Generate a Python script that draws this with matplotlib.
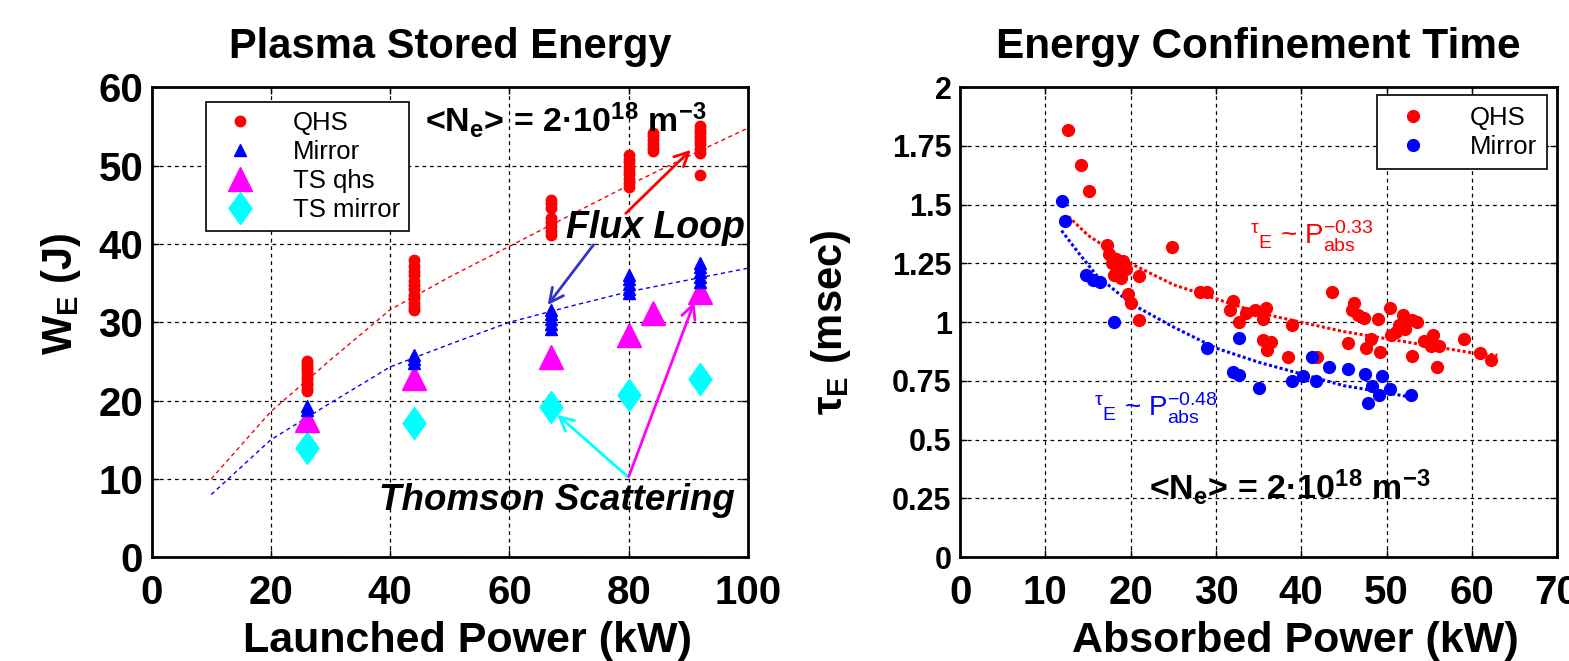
import numpy as np
import matplotlib.pyplot as plt
from matplotlib.lines import Line2D

plt.rcParams['font.family'] = ['Liberation Sans', 'DejaVu Sans']
plt.rcParams['mathtext.fontset'] = 'custom'
plt.rcParams['mathtext.rm'] = 'Liberation Sans'
plt.rcParams['mathtext.bf'] = 'Liberation Sans:bold'
plt.rcParams['mathtext.it'] = 'Liberation Sans:italic'

# ---- left panel: stored energy vs launched power ----
qhs_P = [26]*11 + [44]*12 + [67]*8 + [80]*9 + [84]*6 + [92]*9
qhs_W = [21.2, 21.5, 22.0, 22.3, 22.8, 23.1, 23.6, 24.0, 24.3, 24.7, 25.0,
         31.6, 32.0, 32.5, 33.1, 33.5, 34.2, 34.8, 35.3, 36.0, 36.6, 37.2, 37.9,
         41.2, 41.7, 42.3, 42.8, 43.3, 44.6, 45.1, 45.6,
         47.3, 47.8, 48.3, 48.9, 49.3, 49.8, 50.4, 50.8, 51.4,
         51.8, 52.3, 52.8, 53.3, 53.8, 54.2,
         48.8, 51.6, 52.1, 52.7, 53.1, 53.6, 54.1, 54.6, 55.0]
mir_P = [26, 26, 44, 44, 44, 67, 67, 67, 67, 67, 80, 80, 80, 80, 80, 92, 92, 92, 92, 92]
mir_W = [18.8, 19.3, 24.8, 25.3, 25.8, 29.2, 29.8, 30.4, 31.0, 31.5,
         33.7, 34.3, 34.9, 35.5, 36.0, 35.2, 35.8, 36.4, 37.0, 37.5]
ts_qhs_P = [26, 44, 67, 80, 84, 92]
ts_qhs_W = [17.5, 22.9, 25.6, 28.4, 31.2, 33.9]
ts_mir_P = [26, 44, 67, 80, 92]
ts_mir_W = [13.9, 17.1, 19.2, 20.7, 22.8]
fit_P = [10, 20, 30, 40, 50, 60, 70, 80, 90, 100]
fit_qhs_W = [10.0, 18.6, 25.2, 31.6, 35.8, 39.7, 43.6, 47.5, 51.2, 54.8]
fit_mir_W = [8.0, 15.0, 19.7, 24.3, 27.2, 30.0, 32.0, 33.9, 35.4, 36.9]

# ---- right panel: confinement time vs absorbed power ----
qhs_Pabs = [12.7, 14.2, 15.1, 17.2, 17.5, 18.3, 19.1, 18.7, 19.5, 18.1, 18.9, 17.8,
            21.0, 24.9, 19.7, 20.1, 21.0, 28.1, 28.9, 32.0, 31.6, 32.7, 33.5, 34.6,
            35.9, 35.5, 35.5, 36.4, 36.0, 38.4, 38.9, 41.9, 43.6, 45.5, 46.2, 46.0,
            46.6, 47.4, 47.6, 48.2, 49.0, 49.2, 50.4, 51.9, 53.0, 53.6, 51.5, 52.2,
            51.1, 50.5, 53.0, 54.4, 55.4, 55.2, 56.1, 55.9, 59.1, 61.0, 62.3]
qhs_tau = [1.82, 1.67, 1.56, 1.33, 1.29, 1.27, 1.26, 1.24, 1.225, 1.20, 1.19, 1.25,
           1.195, 1.32, 1.12, 1.08, 1.01, 1.13, 1.127, 1.09, 1.05, 1.00, 1.04, 1.05,
           1.06, 1.015, 0.924, 0.915, 0.88, 0.854, 0.99, 0.85, 1.13, 0.91, 1.08, 1.05,
           1.03, 1.02, 0.89, 0.93, 1.015, 0.875, 1.06, 1.03, 1.01, 1.00, 0.99, 0.97,
           0.96, 0.945, 0.857, 0.92, 0.945, 0.90, 0.90, 0.81, 0.93, 0.87, 0.84]
mir_Pabs = [11.9, 12.3, 14.8, 15.6, 16.4, 18.0, 28.9, 32.7, 32.0, 32.7, 35.1, 38.9,
            40.2, 41.7, 41.3, 43.3, 45.5, 47.5, 49.5, 48.3, 50.4, 49.1, 47.8, 52.9]
mir_tau = [1.517, 1.43, 1.20, 1.18, 1.17, 1.00, 0.89, 0.935, 0.787, 0.777, 0.72, 0.75,
           0.77, 0.75, 0.854, 0.81, 0.80, 0.78, 0.77, 0.73, 0.714, 0.69, 0.655, 0.69]
fitq_P = [12.7, 15, 17.5, 20, 25, 30, 35, 40, 45, 50, 55, 60, 63]
fitq_tau = [1.45, 1.37, 1.31, 1.25, 1.16, 1.10, 1.04, 1.00, 0.96, 0.93, 0.90, 0.87, 0.86]
fitm_P = [11.9, 14, 16, 18, 20, 25, 30, 35, 40, 45, 50, 53]
fitm_tau = [1.39, 1.29, 1.20, 1.14, 1.08, 0.98, 0.89, 0.83, 0.78, 0.73, 0.70, 0.68]
tau_ticks = [0, 0.25, 0.5, 0.75, 1, 1.25, 1.5, 1.75, 2]
tau_labels = ['0', '0.25', '0.5', '0.75', '1', '1.25', '1.5', '1.75', '2']

density = '<N$_{\\mathbf{e}}$> = 2·10$^{\\mathbf{18}}$ m$^{\\mathbf{-3}}$'
diamond = [(0, 1), (0.72, 0), (0, -1), (-0.72, 0), (0, 1)]
magenta = '#ff00ff'
cyan = '#00ffff'

fig = plt.figure(figsize=(15.69, 6.61), dpi=100)
ax1 = fig.add_axes([0.0966, 0.157, 0.3802, 0.711])
ax2 = fig.add_axes([0.6119, 0.157, 0.3805, 0.711])

for ax in (ax1, ax2):
    ax.grid(True, color='k', linestyle=(0, (3, 3)), lw=0.9)
    ax.set_axisbelow(True)
    ax.tick_params(direction='in', length=5, width=1, top=True, right=True)
    for s in ax.spines.values():
        s.set_linewidth(2)

# left
ax1.plot(fit_P, fit_qhs_W, color='red', lw=1, linestyle=(0, (3, 2.5)))
ax1.plot(fit_P, fit_mir_W, color='blue', lw=1, linestyle=(0, (3, 2.5)))
ax1.plot(qhs_P, qhs_W, 'o', color='red', ms=7.5, ls='none')
ax1.plot(ts_mir_P, ts_mir_W, marker=diamond, color=cyan, ms=23, ls='none')
ax1.plot(ts_qhs_P, ts_qhs_W, '^', color=magenta, ms=17, ls='none')
ax1.plot(mir_P, mir_W, '^', color='blue', ms=9, ls='none')

ax1.set_xlim(0, 100)
ax1.set_ylim(0, 60)
ax1.set_xticks(range(0, 101, 20))
ax1.set_yticks(range(0, 61, 10))
ax1.tick_params(axis='x', labelsize=29, pad=12)
ax1.tick_params(axis='y', labelsize=29, pad=6)
for lab in ax1.get_xticklabels() + ax1.get_yticklabels():
    lab.set_fontweight('bold')

ax1.set_title('Plasma Stored Energy', fontsize=30, fontweight='bold', pad=21)
ax1.set_xlabel('Launched Power (kW)', fontsize=31, fontweight='bold')
ax1.set_ylabel(r'W$_{\mathbf{E}}$ (J)', fontsize=30, fontweight='bold')
ax1.xaxis.set_label_coords(0.529, -0.135)
ax1.yaxis.set_label_coords(-0.115, 0.56)

ax1.text(69.5, 55.8, density, fontsize=24.5, fontweight='bold', ha='center', va='center')
ax1.text(84.4, 42.0, 'Flux Loop', fontsize=27, fontweight='bold', style='italic',
         ha='center', va='center')
ax1.text(68.0, 7.2, 'Thomson Scattering', fontsize=26.5, fontweight='bold', style='italic',
         ha='center', va='center')

arrows = [((79.5, 43.9), (90.4, 52.0), 'red'),
          ((74.1, 39.9), (66.4, 32.2), '#3333cc'),
          ((79.8, 10.3), (68.0, 18.2), cyan),
          ((80.0, 10.3), (91.0, 32.6), magenta)]
for start, end, c in arrows:
    ax1.annotate('', xy=end, xytext=start,
                 arrowprops=dict(arrowstyle='->', color=c, lw=2, mutation_scale=25,
                                 shrinkA=0, shrinkB=0))

handles = [Line2D([], [], marker='o', color='red', ls='none', ms=7.5),
           Line2D([], [], marker='^', color='blue', ls='none', ms=9),
           Line2D([], [], marker='^', color=magenta, ls='none', ms=17),
           Line2D([], [], marker=diamond, color=cyan, ls='none', ms=23)]
leg = ax1.legend(handles, ['QHS', 'Mirror', 'TS qhs', 'TS mirror'], loc='upper left',
                 bbox_to_anchor=(0.092, 0.969), borderaxespad=0, fontsize=18.5,
                 fancybox=False, framealpha=1, edgecolor='k', labelspacing=0.2,
                 handlelength=1.9, handletextpad=1.1, borderpad=0.35)
leg.get_frame().set_linewidth(1.2)

# right
ax2.plot(fitq_P, fitq_tau, color='red', lw=2.2, linestyle=(0, (1, 0.8)))
ax2.plot(fitm_P, fitm_tau, color='blue', lw=2.2, linestyle=(0, (1, 0.8)))
ax2.plot(qhs_Pabs, qhs_tau, 'o', color='red', ms=8.5, ls='none', label='QHS')
ax2.plot(mir_Pabs, mir_tau, 'o', color='blue', ms=8.5, ls='none', label='Mirror')

ax2.set_xlim(0, 70)
ax2.set_ylim(0, 2)
ax2.set_xticks(range(0, 71, 10))
ax2.set_yticks(tau_ticks)
ax2.set_yticklabels(tau_labels)
ax2.tick_params(axis='x', labelsize=29, pad=12)
ax2.tick_params(axis='y', labelsize=22, pad=6)
for lab in ax2.get_xticklabels() + ax2.get_yticklabels():
    lab.set_fontweight('bold')

ax2.set_title('Energy Confinement Time', fontsize=30.5, fontweight='bold', pad=21)
ax2.set_xlabel('Absorbed Power (kW)', fontsize=31, fontweight='bold')
ax2.set_ylabel('τ$_{\\mathbf{E}}$ (msec)', fontsize=30, fontweight='bold')
ax2.xaxis.set_label_coords(0.561, -0.135)
ax2.yaxis.set_label_coords(-0.18, 0.5)

ax2.text(41.2, 1.366, '$^{\\mathrm{τ}}{}_{\\mathrm{E}}$ ~ P$^{-0.33}_{\\mathrm{abs}}$',
         color='red', fontsize=20, ha='center', va='center')
ax2.text(22.9, 0.634, '$^{\\mathrm{τ}}{}_{\\mathrm{E}}$ ~ P$^{-0.48}_{\\mathrm{abs}}$',
         color='blue', fontsize=20, ha='center', va='center')
ax2.text(38.7, 0.30, density, fontsize=24.5, fontweight='bold', ha='center', va='center')

leg2 = ax2.legend(loc='upper right', bbox_to_anchor=(0.983, 0.983), borderaxespad=0,
                  fontsize=18.5, fancybox=False, framealpha=1, edgecolor='k',
                  handlelength=2.0, handletextpad=1.2, labelspacing=0.2, borderpad=0.4)
leg2.get_frame().set_linewidth(1.2)

fig.savefig('out.png', dpi=100)
